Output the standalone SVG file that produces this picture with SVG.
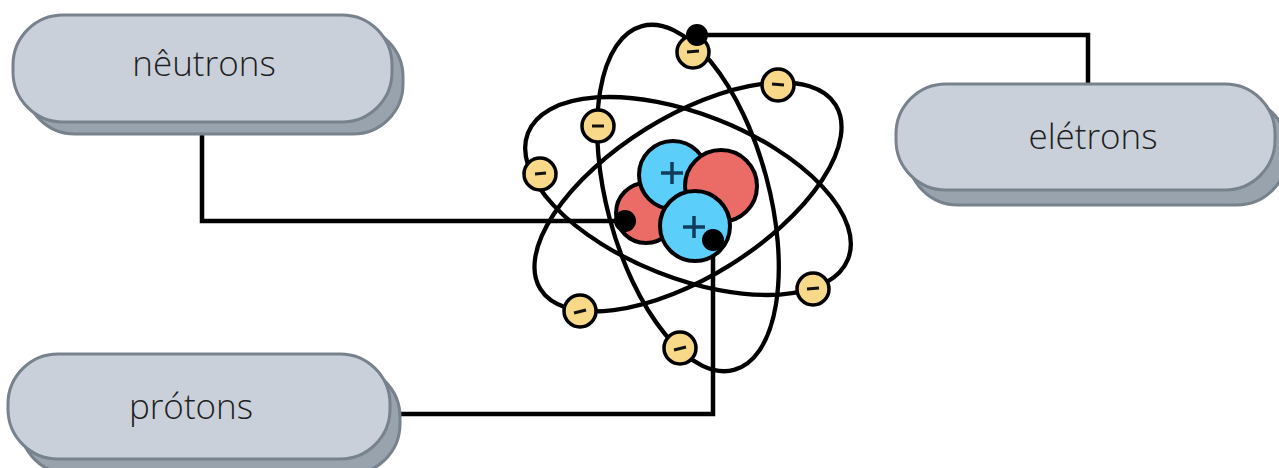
<svg xmlns="http://www.w3.org/2000/svg" width="1279" height="468" viewBox="0 0 1279 468">
  <style>
    .shadow { fill: #99a3ad; stroke: #77828d; stroke-width: 3; }
    .pill { fill: #c9d0d9; stroke: #77828d; stroke-width: 3; }
    .label { font-family: "Open Sans", "Liberation Sans", sans-serif; font-weight: 300; font-size: 35px; fill: #1e1e1e; text-anchor: middle; }
    .wire { fill: none; stroke: #000; stroke-width: 4.5; stroke-linecap: square; }
    .dot { fill: #000; }
    .orbit { fill: none; stroke: #000; stroke-width: 4.3; }
    .electron { fill: #f8d98a; stroke: #000; stroke-width: 3.5; }
    .minus { stroke: #111; stroke-width: 3; stroke-linecap: butt; }
    .neutron { fill: #eb6b66; stroke: #000; stroke-width: 4; }
    .proton { fill: #5bcefa; stroke: #000; stroke-width: 4; }
    .plus { stroke: #123c5e; stroke-width: 3.5; fill: none; }
  </style>

  <!-- connectors -->
  <g id="connectors">
    <polyline class="wire" points="202,135 202,221 624,221"/>
    <polyline class="wire" points="697,35 1088,35 1088,83"/>
    <polyline class="wire" points="713,240 713,414 401,414"/>
  </g>

  <!-- atom -->
  <g id="atom">
    <g id="orbits">
      <ellipse class="orbit" cx="688" cy="198" rx="81" ry="178" transform="rotate(-15 688 198)"/>
      <ellipse class="orbit" cx="688" cy="196" rx="172" ry="82" transform="rotate(21.5 688 196)"/>
      <ellipse class="orbit" cx="688" cy="197" rx="174" ry="80" transform="rotate(-32 688 197)"/>
    </g>
    <g id="electrons">
      <g><circle class="electron" cx="693" cy="52" r="16"/><line class="minus" x1="687" y1="52" x2="699" y2="51"/></g>
      <g><circle class="electron" cx="778" cy="85" r="16"/><line class="minus" x1="772" y1="84" x2="784" y2="85"/></g>
      <g><circle class="electron" cx="598" cy="126" r="16"/><line class="minus" x1="592" y1="126" x2="604" y2="126"/></g>
      <g><circle class="electron" cx="540" cy="174" r="16"/><line class="minus" x1="535" y1="174" x2="546" y2="173"/></g>
      <g><circle class="electron" cx="580" cy="311" r="16"/><line class="minus" x1="574" y1="313" x2="586" y2="310"/></g>
      <g><circle class="electron" cx="680" cy="348" r="16"/><line class="minus" x1="674" y1="350" x2="686" y2="347"/></g>
      <g><circle class="electron" cx="813" cy="289" r="16"/><line class="minus" x1="807" y1="289" x2="819" y2="288"/></g>
    </g>
    <g id="nucleus">
      <circle class="neutron" cx="646" cy="213" r="30"/>
      <circle class="proton" cx="673" cy="175" r="34"/>
      <path class="plus" d="M661 173 H683 M672 162 V184"/>
      <circle class="neutron" cx="721" cy="186" r="36"/>
      <circle class="proton" cx="695" cy="226" r="35"/>
      <path class="plus" d="M683 227 H705 M694 216 V238"/>
    </g>
    <circle class="dot" cx="697" cy="35" r="11"/>
    <circle class="dot" cx="625" cy="221" r="11"/>
    <circle class="dot" cx="713" cy="240" r="11"/>
  </g>

  <!-- nodes -->
  <g id="node-neutrons">
    <rect class="shadow" x="25" y="27" width="378" height="107" rx="50"/>
    <rect class="pill" x="13" y="15" width="379" height="107" rx="50"/>
    <text class="label" x="204" y="76">nêutrons</text>
  </g>
  <g id="node-eletrons">
    <rect class="shadow" x="908" y="98" width="379" height="107" rx="50"/>
    <rect class="pill" x="896" y="84" width="379" height="106" rx="50"/>
    <text class="label" x="1093" y="149">elétrons</text>
  </g>
  <g id="node-protons">
    <rect class="shadow" x="20" y="367" width="380" height="107" rx="50"/>
    <rect class="pill" x="8" y="354" width="382" height="105" rx="50"/>
    <text class="label" x="191" y="419">prótons</text>
  </g>
</svg>
